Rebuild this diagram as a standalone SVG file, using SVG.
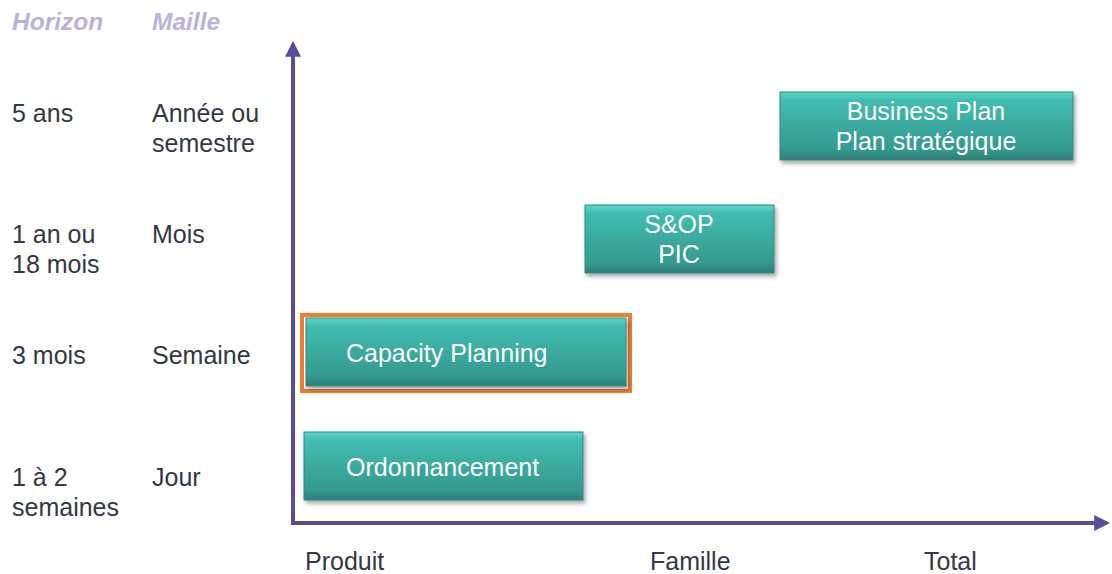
<svg xmlns="http://www.w3.org/2000/svg" width="1112" height="574" viewBox="0 0 1112 574">
<style>
.hdr{font-family:"Liberation Sans",Arial,sans-serif;font-size:24.5px;font-weight:bold;font-style:italic;fill:#b8b2de}
.lbl{font-family:"Liberation Sans",Arial,sans-serif;font-size:25px;fill:#333845}
.box{fill:url(#teal);stroke:#2e8a80;stroke-width:1}
.bt{font-family:"Liberation Sans",Arial,sans-serif;font-size:25px;fill:#ffffff;text-anchor:middle}
.axis{stroke:#5b4b9b;stroke-width:4;fill:none}
</style>
<defs>
<linearGradient id="teal" x1="0" y1="0" x2="0" y2="1">
<stop offset="0" stop-color="#5ad8cb"/>
<stop offset="0.12" stop-color="#42bcb0"/>
<stop offset="0.85" stop-color="#349a8f"/>
<stop offset="1" stop-color="#2c7e76"/>
</linearGradient>
<filter id="sh" x="-5%" y="-10%" width="115%" height="135%">
<feDropShadow dx="2" dy="3" stdDeviation="2" flood-color="#000" flood-opacity="0.35"/>
</filter>
<marker id="ah" viewBox="0 0 10 10" refX="8" refY="5" markerWidth="4" markerHeight="4" orient="auto">
<path d="M0,0 L10,5 L0,10 Z" fill="#5b4b9b"/>
</marker>
</defs>
<rect width="1112" height="574" fill="#ffffff"/>
<text class="hdr" x="12" y="30">Horizon</text>
<text class="hdr" x="152" y="30">Maille</text>
<text class="lbl" x="12" y="122">5 ans</text>
<text class="lbl" x="152" y="122">Année ou</text>
<text class="lbl" x="152" y="152">semestre</text>
<text class="lbl" x="12" y="243">1 an ou</text>
<text class="lbl" x="12" y="273">18 mois</text>
<text class="lbl" x="152" y="243">Mois</text>
<text class="lbl" x="12" y="364">3 mois</text>
<text class="lbl" x="152" y="364">Semaine</text>
<text class="lbl" x="12" y="486">1 à 2</text>
<text class="lbl" x="12" y="516">semaines</text>
<text class="lbl" x="152" y="486">Jour</text>
<text class="lbl" x="305" y="570">Produit</text>
<text class="lbl" x="650" y="570">Famille</text>
<text class="lbl" x="924" y="570">Total</text>
<g id="connectors">
<line class="axis" x1="293" y1="523" x2="293" y2="44" marker-end="url(#ah)"/>
<line class="axis" x1="291" y1="523" x2="1107" y2="523" marker-end="url(#ah)"/>
</g>
<g id="business-plan">
<rect class="box" x="780" y="92" width="293" height="68" filter="url(#sh)"/>
<text class="bt" x="926" y="120">Business Plan</text>
<text class="bt" x="926" y="150">Plan stratégique</text>
</g>
<g id="sop">
<rect class="box" x="585" y="205" width="189" height="68" filter="url(#sh)"/>
<text class="bt" x="679" y="233">S&amp;OP</text>
<text class="bt" x="679" y="263">PIC</text>
</g>
<g id="capacity-planning">
<rect x="302" y="315" width="328" height="76" fill="none" stroke="#ee7d31" stroke-width="4"/>
<rect class="box" x="306" y="318" width="320" height="68" filter="url(#sh)"/>
<text x="346" y="362" class="bt" style="text-anchor:start">Capacity Planning</text>
</g>
<g id="ordonnancement">
<rect class="box" x="304" y="432" width="279" height="68" filter="url(#sh)"/>
<text x="346" y="476" class="bt" style="text-anchor:start">Ordonnancement</text>
</g>
</svg>
